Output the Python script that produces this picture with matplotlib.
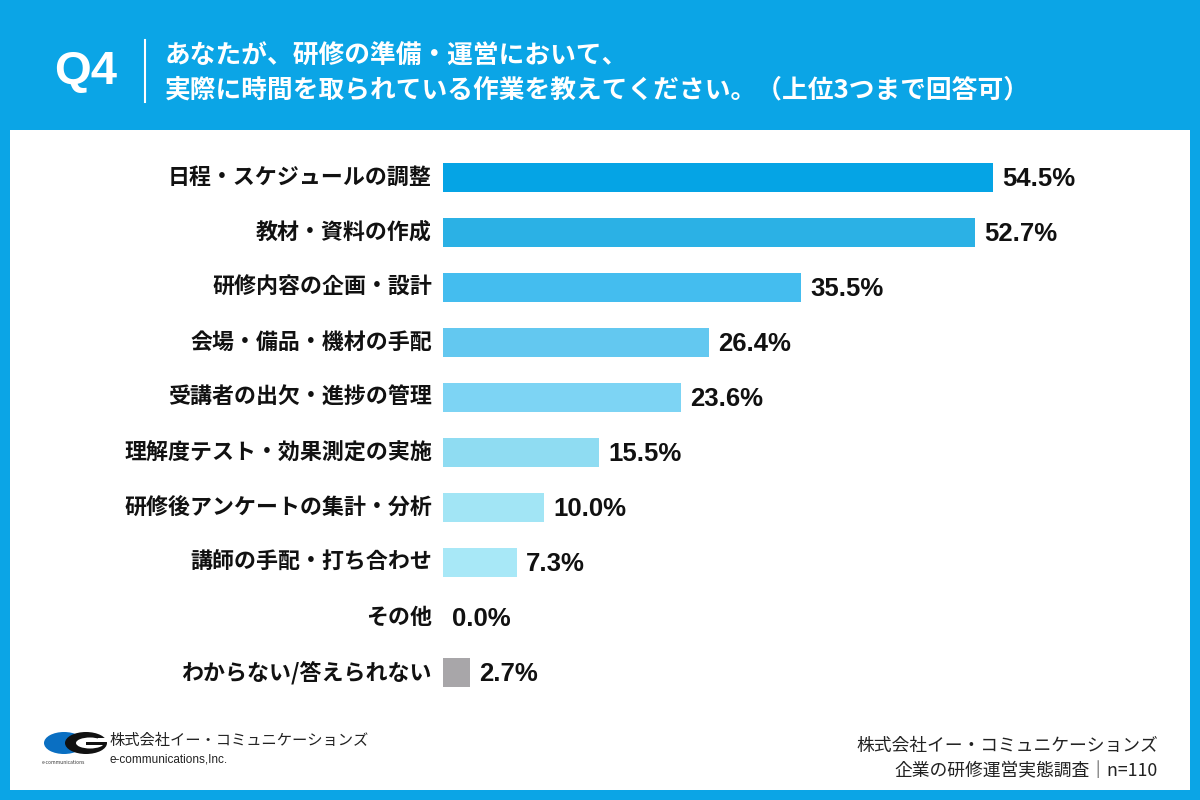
import matplotlib
matplotlib.use('Agg')
import matplotlib.pyplot as plt
from matplotlib.patches import Rectangle, Ellipse

plt.rcParams['font.family'] = ['Noto Sans CJK JP', 'DejaVu Sans']

# data
categories = ['日程・スケジュールの調整', '教材・資料の作成', '研修内容の企画・設計',
              '会場・備品・機材の手配', '受講者の出欠・進捗の管理', '理解度テスト・効果測定の実施',
              '研修後アンケートの集計・分析', '講師の手配・打ち合わせ', 'その他',
              'わからない/答えられない']
values = [54.5, 52.7, 35.5, 26.4, 23.6, 15.5, 10.0, 7.3, 0.0, 2.7]
colors = ['#05a4e5', '#2bb1e5', '#44bdef', '#63c8f0', '#7dd4f4', '#8fdcf2',
          '#a2e5f5', '#a8e8f7', '#b0eaf8', '#a8a6a9']

title_q = 'Q4'
title_lines = ['あなたが、研修の準備・運営において、',
               '実際に時間を取られている作業を教えてください。（上位3つまで回答可）']
source_lines = ['株式会社イー・コミュニケーションズ', '企業の研修運営実態調査｜n=110']

W, H = 1200, 800
BLUE = '#0ba5e6'

fig = plt.figure(figsize=(12, 8), dpi=100)
fig.patch.set_facecolor(BLUE)


def fx(x):
    return x / W


def fy(y):
    return 1 - y / H


# white panel
bg = fig.add_axes([0, 0, 1, 1])
bg.set_xlim(0, W)
bg.set_ylim(H, 0)
bg.axis('off')
bg.add_patch(Rectangle((10, 130), 1180, 660, facecolor='white', edgecolor='none'))

# header
fig.text(fx(54), fy(72), title_q, color='white', fontsize=34, fontweight='bold',
         family=['Liberation Sans', 'DejaVu Sans'], va='center', ha='left')
bg.plot([145, 145], [40, 102], color='white', lw=1.5)
fig.text(fx(165), fy(56), title_lines[0], color='white', fontsize=18.5, fontweight='bold',
         va='center', ha='left')
fig.text(fx(165), fy(90), title_lines[1], color='white', fontsize=18.5, fontweight='bold',
         va='center', ha='left')

# bars
ax = fig.add_axes([fx(443), fy(700), 657 / W, 550 / H])
y = list(range(len(categories)))
ax.barh(y, values, height=0.545, color=colors, edgecolor='none')
ax.set_xlim(0, 657 / 10.09)
ax.set_ylim(len(categories) - 0.5, -0.5)
ax.axis('off')
for i, (c, v) in enumerate(zip(categories, values)):
    ax.text(-1.1, i, c, ha='right', va='center', fontsize=15.8, fontweight='bold',
            color='#111111')
    ax.text(v + 0.9, i + 0.03, f'{v:.1f}%', ha='left', va='center', fontsize=18.5,
            fontweight='bold', color='#111111', family=['Liberation Sans', 'DejaVu Sans'])

# logo
bg.add_patch(Ellipse((64, 743), 40, 22, facecolor='#0a6fc2', edgecolor='none'))
bg.add_patch(Ellipse((86, 743), 42, 22, facecolor='#111111', edgecolor='none'))
bg.add_patch(Ellipse((90, 743), 28, 11, facecolor='white', edgecolor='none'))
bg.add_patch(Rectangle((98, 738), 10, 4, facecolor='white', edgecolor='none'))
bg.add_patch(Rectangle((86, 742), 20, 3, facecolor='#111111', edgecolor='none'))
fig.text(fx(42), fy(762), 'e-communications', fontsize=3.5, color='#333333',
         va='center', ha='left')
fig.text(fx(109), fy(740), source_lines[0], fontsize=11, color='#222222',
         va='center', ha='left')
fig.text(fx(109), fy(760), 'e-communications,Inc.', fontsize=8.5, color='#222222',
         family=['Liberation Sans', 'DejaVu Sans'], va='center', ha='left')

# source
fig.text(fx(1158), fy(746), source_lines[0], fontsize=12.8, color='#222222',
         va='center', ha='right')
fig.text(fx(1158), fy(771), source_lines[1], fontsize=12.8, color='#222222',
         va='center', ha='right')

fig.savefig('out.png', dpi=100, facecolor=fig.get_facecolor())
